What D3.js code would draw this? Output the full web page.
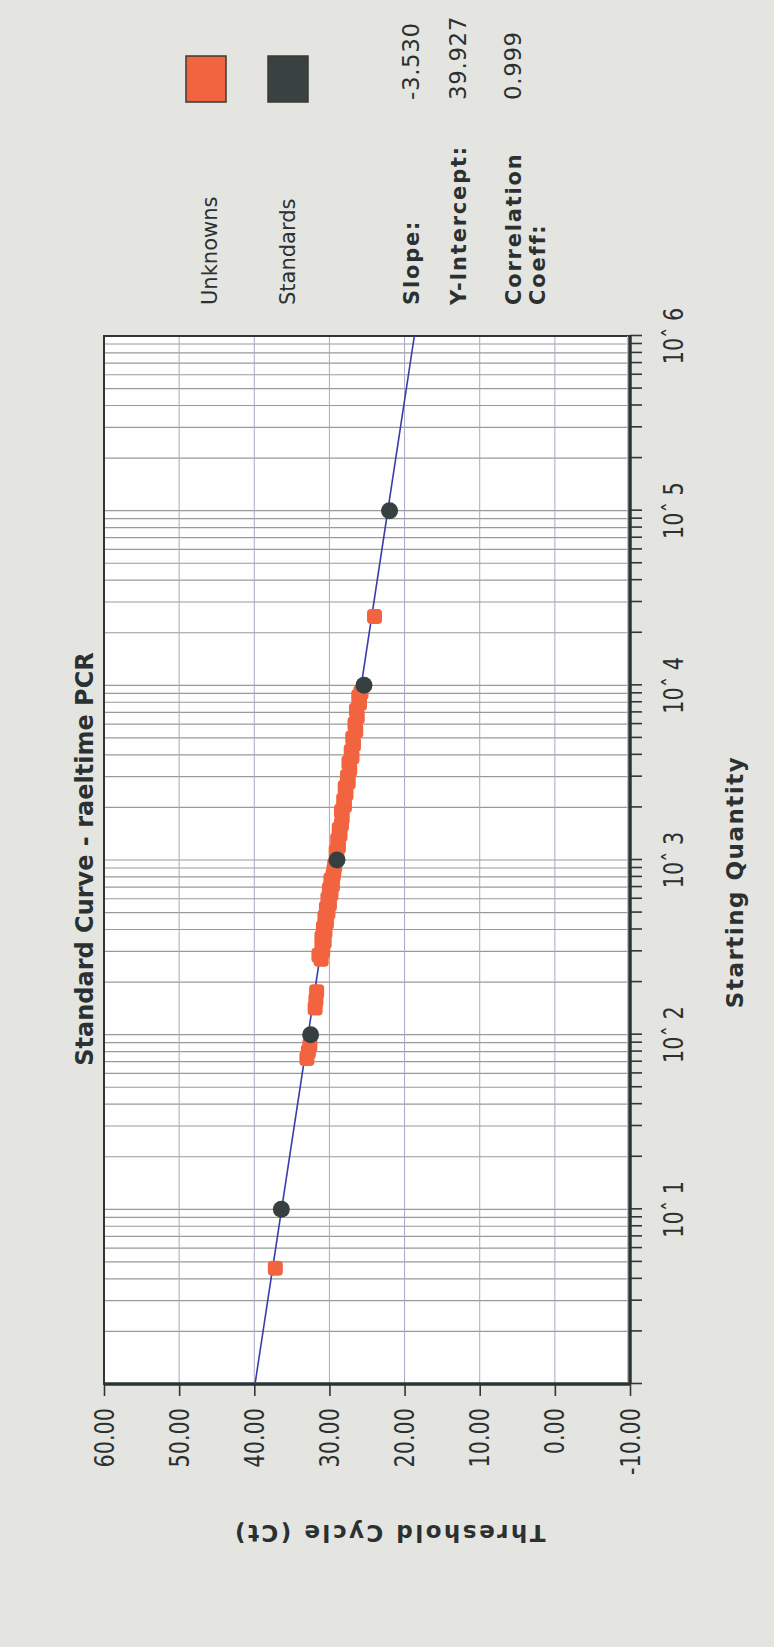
<!DOCTYPE html>
<html>
<head>
<meta charset="utf-8">
<script src="https://cdn.jsdelivr.net/npm/d3@7"></script>
<style>
  html, body { margin: 0; padding: 0; background: #e4e5e1; }
  svg { display: block; }
  text { font-family: "DejaVu Sans", sans-serif; fill: #2b3030; }
</style>
</head>
<body>
<svg id="chart"></svg>
<script>
const W = 774, H = 1647;

// standards (dark dots)
const stdQty = [10, 100, 1000, 10000, 100000];
const stdCt = [36.4, 32.5, 29.0, 25.4, 22.0];

// unknowns (orange dots)
const unkQty = [4.6, 73, 80, 87, 142, 158, 176,
  270, 285, 300, 320, 340, 360, 390, 410, 440, 470, 500, 530, 560, 600, 640, 680, 720, 770, 820, 870, 930,
  1050, 1120, 1200, 1300, 1400, 1500, 1600, 1750, 1900, 2050, 2200, 2400, 2600, 2800, 3000, 3300, 3600, 3900,
  4200, 4600, 5000, 5500, 6000, 6600, 7200, 7900, 8600, 9100,
  24800];
const unkCt = [37.2, 33.0, 32.8, 32.6, 31.9, 31.8, 31.7,
  31.1, 31.4, 30.9, 31.0, 30.7, 31.0, 30.6, 30.8, 30.4, 30.6, 30.2, 30.4, 30.0, 30.2, 29.8, 30.0, 29.6, 29.8, 29.5, 29.4, 29.3,
  29.0, 29.1, 28.8, 28.9, 28.6, 28.7, 28.4, 28.3, 28.4, 28.0, 28.1, 27.8, 27.9, 27.5, 27.6, 27.3, 27.4, 27.0,
  27.1, 26.8, 26.9, 26.5, 26.6, 26.3, 26.4, 26.0, 26.1, 25.8,
  24.0];

// fitted line end points
const fitQty = [1, 1000000];
const fitCt = [39.9, 18.7];

const ctTicks = [60, 50, 40, 30, 20, 10, 0, -10];
const qtyDecades = [10, 100, 1000, 10000, 100000, 1000000];
const qtyTickLabels = ["10ˆ 1", "10ˆ 2", "10ˆ 3", "10ˆ 4", "10ˆ 5", "10ˆ 6"];

const legendNames = ["Unknowns", "Standards"];
const legendColors = ["#f2633f", "#394141"];
const statNames = ["Slope:", "Y-Intercept:", "Correlation"];
const statValues = ["-3.530", "39.927", "0.999"];

const svg = d3.select("#chart").attr("width", W).attr("height", H);
svg.append("rect").attr("width", W).attr("height", H).attr("fill", "#e4e5e1");

// the whole chart is drawn upright and turned a quarter turn counter-clockwise
const g = svg.append("g").attr("transform", `translate(0,${H}) rotate(-90)`);

const pLeft = 263, pRight = 1311, pTop = 104, pBottom = 630;
const x = d3.scaleLog().domain([1, 1e6]).range([pLeft, pRight]);
const y = d3.scaleLinear().domain([-10, 60]).range([pBottom, pTop]);

g.append("rect")
  .attr("x", pLeft).attr("y", pTop)
  .attr("width", pRight - pLeft).attr("height", pBottom - pTop)
  .attr("fill", "#fefefe");

// grid
g.append("g").selectAll("line")
  .data(x.ticks())
  .enter().append("line")
  .attr("x1", d => x(d)).attr("x2", d => x(d))
  .attr("y1", pTop).attr("y2", pBottom)
  .attr("stroke", "#9a9a96").attr("stroke-width", 1.2);

g.append("g").selectAll("line")
  .data(ctTicks.filter(d => d < 60 && d > -10))
  .enter().append("line")
  .attr("x1", pLeft).attr("x2", pRight)
  .attr("y1", d => y(d)).attr("y2", d => y(d))
  .attr("stroke", "#a9a9c4").attr("stroke-width", 1);

// helper for squeezed text
function label(parent, str, tx, ty, size, opts = {}) {
  const sx = opts.sx || 1;
  let tr = `translate(${tx},${ty})`;
  if (opts.rot) tr += ` rotate(${opts.rot})`;
  tr += ` scale(${sx},1)`;
  return parent.append("text")
    .attr("transform", tr)
    .attr("font-size", size)
    .attr("font-weight", opts.bold ? "bold" : "normal")
    .attr("letter-spacing", opts.ls || 0)
    .attr("text-anchor", opts.anchor || "start")
    .text(str);
}

// x axis (Starting Quantity)
const xAxis = g.append("g")
  .attr("transform", `translate(0,${pBottom})`)
  .call(d3.axisBottom(x).tickValues(x.ticks()).tickSize(12).tickFormat(() => ""));
xAxis.select(".domain").remove();
xAxis.selectAll(".tick line").attr("stroke", "#2e3636").attr("stroke-width", 1.6);

qtyDecades.forEach((d, i) => {
  label(g, qtyTickLabels[i], x(d), pBottom + 53, 26, { sx: 0.8, anchor: "middle" });
});

// y axis (Threshold Cycle)
const yAxis = g.append("g")
  .attr("transform", `translate(${pLeft},0)`)
  .call(d3.axisLeft(y).tickValues(ctTicks).tickSize(12).tickFormat(() => ""));
yAxis.select(".domain").remove();
yAxis.selectAll(".tick line").attr("stroke", "#2e3636").attr("stroke-width", 1.6);

ctTicks.forEach(d => {
  label(g, d3.format(".2f")(d).replace("−", "-"), pLeft - 24, y(d) + 9.5, 26, { sx: 0.8, anchor: "end" });
});

// frame
g.append("rect")
  .attr("x", pLeft).attr("y", pTop)
  .attr("width", pRight - pLeft).attr("height", pBottom - pTop)
  .attr("fill", "none").attr("stroke", "#2e3636").attr("stroke-width", 2);
g.append("line").attr("x1", pLeft + 2.5).attr("x2", pRight).attr("y1", pBottom - 2.5).attr("y2", pBottom - 2.5)
  .attr("stroke", "#f0b45a").attr("stroke-width", 1);
g.append("line").attr("x1", pLeft).attr("x2", pRight).attr("y1", pBottom).attr("y2", pBottom)
  .attr("stroke", "#2a3434").attr("stroke-width", 3.5);
g.append("line").attr("x1", pLeft).attr("x2", pLeft).attr("y1", pTop).attr("y2", pBottom)
  .attr("stroke", "#2a3434").attr("stroke-width", 3.5);

// fitted line
g.append("path")
  .datum(fitQty.map((q, i) => [q, fitCt[i]]))
  .attr("d", d3.line().x(d => x(d[0])).y(d => y(d[1])))
  .attr("fill", "none").attr("stroke", "#3b3ba8").attr("stroke-width", 1.6);

// unknowns
g.append("g").selectAll("rect")
  .data(unkQty.map((q, i) => [q, unkCt[i]]))
  .enter().append("rect")
  .attr("x", d => x(d[0]) - 7.5).attr("y", d => y(d[1]) - 7.5)
  .attr("width", 15).attr("height", 15).attr("rx", 4)
  .attr("fill", "#f2633f");

// standards
g.append("g").selectAll("circle")
  .data(stdQty.map((q, i) => [q, stdCt[i]]))
  .enter().append("circle")
  .attr("cx", d => x(d[0])).attr("cy", d => y(d[1]))
  .attr("r", 8.5)
  .attr("fill", "#364040");

// titles
label(g, "Standard Curve - raeltime PCR", 788, 93, 24, { bold: true, anchor: "middle" });
label(g, "Starting Quantity", 765, 743, 23, { bold: true, anchor: "middle", ls: 1.5 });
label(g, "Threshold Cycle (Ct)", 122, 389, 23, { bold: true, anchor: "middle", ls: 2.5, rot: -90 });

// legend
legendNames.forEach((name, i) => {
  const vy = [186, 268][i];
  g.append("rect")
    .attr("x", 1545).attr("y", vy)
    .attr("width", 46).attr("height", 40)
    .attr("fill", legendColors[i])
    .attr("stroke", "#3a3a32").attr("stroke-width", 1.5);
  label(g, name, 1342, [217, 295][i], 21);
});

const statY = [419, 466, 521];
statNames.forEach((name, i) => {
  label(g, name, 1342, statY[i], 21, { bold: true, ls: 1.8 });
  label(g, statValues[i], 1547, statY[i], 23, { ls: 0.6 });
});
label(g, "Coeff:", 1342, 545, 21, { bold: true, ls: 1.8 });
</script>
</body>
</html>
